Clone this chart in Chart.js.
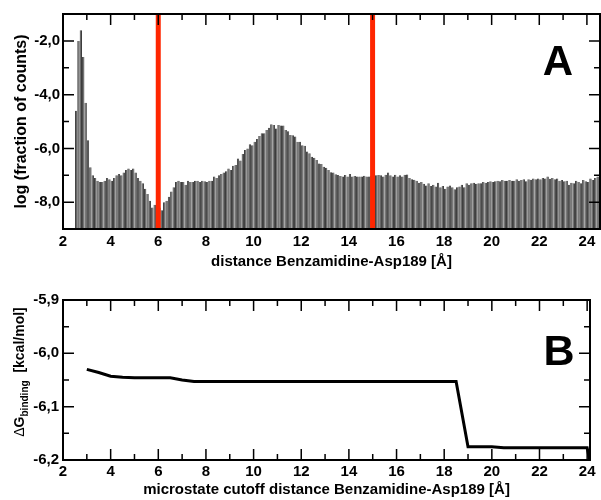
<!DOCTYPE html>
<html>
<head>
<meta charset="utf-8">
<script src="https://cdn.jsdelivr.net/npm/chart.js@4.4.1/dist/chart.umd.min.js"></script>
<style>
  html, body { margin: 0; padding: 0; background: #fff; }
  #wrap { position: relative; width: 601px; height: 500px; }
  canvas { position: absolute; left: 0; }
  #chartA { top: 0; }
  #chartB { top: 272px; }
</style>
</head>
<body>
<div id="wrap">
  <canvas id="chartA" width="601" height="272"></canvas>
  <canvas id="chartB" width="601" height="228"></canvas>
</div>
<script>
// Panel A: histogram of log(fraction of counts), 0.1 Å bins starting at 2.5 Å
const logFraction = [
  -4.6, -2.0, -1.6, -2.6, -4.3, -5.7, -6.7, -7.0, -7.1, -7.2,
  -7.25, -7.25, -7.2, -7.1, -7.15, -7.2, -7.1, -7.0, -6.95, -7.0,
  -6.9, -6.8, -6.75, -6.8, -6.75, -6.9, -7.1, -7.2, -7.3, -7.5,
  -7.7, -7.95, -8.2, -8.1, -8.1, -8.2, -8.3, -8.0, -7.95, -7.8,
  -7.6, -7.45, -7.25, -7.2, -7.25, -7.25, -7.35, -7.2, -7.25, -7.25,
  -7.2, -7.2, -7.25, -7.2, -7.22, -7.25, -7.2, -7.2, -7.05, -7.1,
  -7.0, -6.95, -6.9, -6.85, -6.75, -6.8, -6.65, -6.62, -6.38, -6.45,
  -6.21, -6.06, -6.0, -5.85, -5.88, -5.75, -5.65, -5.54, -5.44, -5.44,
  -5.32, -5.23, -5.1, -5.13, -5.26, -5.13, -5.15, -5.15, -5.32, -5.36,
  -5.5, -5.51, -5.56, -5.75, -5.75, -5.88, -5.9, -6.12, -6.18, -6.31,
  -6.35, -6.43, -6.56, -6.58, -6.68, -6.72, -6.8, -6.89, -6.9, -6.96,
  -6.99, -7.03, -7.05, -6.99, -7.05, -6.95, -7.05, -7.03, -7.05, -7.05,
  -7.05, -7.02, -7.05, -7.05, -7.03, -7.05, -7.0, -6.99, -7.0, -7.05,
  -6.98, -6.9, -7.0, -7.05, -6.98, -7.05, -7.0, -7.05, -6.98, -6.97,
  -7.1, -7.15, -7.17, -7.2, -7.28, -7.25, -7.32, -7.38, -7.3, -7.4,
  -7.35, -7.42, -7.28, -7.45, -7.4, -7.5, -7.42, -7.38, -7.45, -7.52,
  -7.45, -7.42, -7.35, -7.45, -7.3, -7.35, -7.3, -7.28, -7.32, -7.3,
  -7.3, -7.25, -7.28, -7.25, -7.22, -7.25, -7.22, -7.2, -7.22, -7.18,
  -7.2, -7.2, -7.18, -7.2, -7.2, -7.15, -7.2, -7.18, -7.15, -7.22,
  -7.15, -7.17, -7.12, -7.15, -7.12, -7.15, -7.1, -7.12, -7.05, -7.13,
  -7.1, -7.15, -7.12, -7.2, -7.18, -7.22, -7.2, -7.35, -7.28, -7.3,
  -7.2, -7.25, -7.3, -7.18, -7.22, -7.25, -7.12, -7.18, -7.1, -7.05
];
const binCenters = logFraction.map((_, i) => +(2.55 + i * 0.1).toFixed(2));
const cutoffLines = [6, 15];

// Panel B: binding free energy vs. microstate cutoff
const cutoffDistance = [3, 3.5, 4, 4.5, 5, 5.5, 6, 6.5, 7, 7.5, 8, 9, 10, 11, 12, 13, 14, 15, 16, 17, 18, 18.5, 19, 19.5, 20, 20.5, 21, 22, 23, 24, 24.5];
const deltaG = [-6.030, -6.036, -6.043, -6.045, -6.046, -6.046, -6.046, -6.046, -6.050, -6.053, -6.053, -6.053, -6.053, -6.053, -6.053, -6.053, -6.053, -6.053, -6.053, -6.053, -6.053, -6.053, -6.175, -6.175, -6.175, -6.177, -6.177, -6.177, -6.177, -6.177, -6.29];

// axis ranges
const xRangeA = [2, 24.55], yRangeA = [-9, -1];
const xRangeB = [2, 24.12], yRangeB = [-6.2, -5.9];

const FONT = 'Liberation Sans';
Chart.defaults.font.family = FONT;
Chart.defaults.color = '#000';

const isMultiple = (v, m) => Math.abs(v / m - Math.round(v / m)) < 1e-6;
const commaLabel = (v, d) => v.toFixed(d).replace('.', ',');

// inward tick marks on the frame as short line segments (gaps between them)
// ux/uy: data units per pixel of the plot area
function tickSegments(xr, yr, xStep, xMajor, yStep, yMajor, ux, uy, bottom) {
  const pts = [];
  const seg = (x1, y1, x2, y2) => pts.push({ x: x1, y: y1 }, { x: x2, y: y2 }, { x: x2, y: null });
  const nx = Math.round((Math.floor(xr[1]) - Math.ceil(xr[0])) / xStep);
  for (let i = 0; i <= nx; i++) {
    const v = Math.ceil(xr[0]) + i * xStep;
    const len = isMultiple(v, xMajor) ? 11 : 6;
    seg(v, yr[1], v, yr[1] - len * uy);
    if (bottom) seg(v, yr[0], v, yr[0] + len * uy);
  }
  const ny = Math.round((yr[1] - yr[0]) / yStep);
  for (let i = 0; i <= ny; i++) {
    const v = yr[0] + i * yStep;
    const len = isMultiple(v, yMajor) ? 11 : 6;
    seg(xr[0], v, xr[0] + len * ux, v);
    seg(xr[1], v, xr[1] - len * ux, v);
  }
  return pts;
}

const tickDataset = pts => ({
  type: 'line', data: pts, borderColor: '#000', borderWidth: 1.5,
  pointRadius: 0, spanGaps: false, tension: 0, order: 0
});

// closed frame and panel letter
function frameLetter(cfg) {
  return {
    id: 'frameLetter',
    afterDraw(chart) {
      const { ctx, chartArea: a } = chart;
      ctx.save();
      ctx.strokeStyle = '#000';
      ctx.lineWidth = 2;
      ctx.strokeRect(a.left, a.top, a.right - a.left, a.bottom - a.top);
      ctx.fillStyle = '#000';
      ctx.font = 'bold ' + cfg.size + 'px ' + FONT;
      ctx.textAlign = 'center';
      ctx.fillText(cfg.letter, cfg.x, cfg.y);
      ctx.restore();
    }
  };
}

// rotated y title with subscript for panel B
const dgTitle = {
  id: 'dgTitle',
  afterDraw(chart) {
    const { ctx, chartArea: a } = chart;
    const parts = [
      { t: '\u0394', f: '14px ' + FONT, dy: 0 },
      { t: 'G', f: 'bold 14px ' + FONT, dy: 0 },
      { t: 'binding', f: 'bold 10px ' + FONT, dy: 4 },
      { t: '  [kcal/mol]', f: 'bold 14px ' + FONT, dy: 0 }
    ];
    ctx.save();
    let total = 0;
    parts.forEach(p => { ctx.font = p.f; p.w = ctx.measureText(p.t).width; total += p.w; });
    ctx.translate(24, (a.top + a.bottom) / 2 - 8);
    ctx.rotate(-Math.PI / 2);
    ctx.fillStyle = '#000';
    let cx = -total / 2;
    parts.forEach(p => { ctx.font = p.f; ctx.fillText(p.t, cx, p.dy); cx += p.w; });
    ctx.restore();
  }
};

const labelFont = { size: 15, weight: 'bold' };

// plot area A: 537 x 215 px, plot area B: 527 x 160 px
const ticksA = tickSegments(xRangeA, yRangeA, 1, 2, 1, 2,
  (xRangeA[1] - xRangeA[0]) / 537, (yRangeA[1] - yRangeA[0]) / 215, false);
const ticksB = tickSegments(xRangeB, yRangeB, 1, 2, 0.05, 0.1,
  (xRangeB[1] - xRangeB[0]) / 527, (yRangeB[1] - yRangeB[0]) / 160, true);

new Chart(document.getElementById('chartA'), {
  type: 'bar',
  data: {
    datasets: [
      tickDataset(ticksA),
      ...cutoffLines.map(c => ({
        type: 'line', data: [{ x: c, y: yRangeA[0] }, { x: c, y: yRangeA[1] }],
        borderColor: '#ff2600', borderWidth: 5, pointRadius: 0, order: 1
      })),
      {
        type: 'bar',
        data: logFraction.map((v, i) => ({ x: binCenters[i], y: [yRangeA[0], v] })),
        backgroundColor: '#5e5e5e', borderColor: '#000', borderWidth: 0.8,
        borderSkipped: 'start', barPercentage: 0.95, categoryPercentage: 1, order: 2
      }
    ]
  },
  options: {
    responsive: false, animation: false, events: [], devicePixelRatio: 1,
    layout: { padding: { top: 14, right: 1, left: 0, bottom: 0 } },
    plugins: { legend: { display: false }, tooltip: { enabled: false } },
    scales: {
      x: {
        type: 'linear', min: xRangeA[0], max: xRangeA[1], offset: false,
        grid: { display: false, drawTicks: false, offset: false },
        border: { display: false },
        ticks: { stepSize: 2, includeBounds: false, autoSkip: false, maxRotation: 0, padding: 4,
                 font: labelFont, callback: v => Number.isInteger(v) ? v : '' },
        title: { display: true, text: 'distance Benzamidine-Asp189 [Å]',
                 font: { size: 15, weight: 'bold' }, padding: { top: 0, bottom: 1 } },
        afterFit: s => { s.height = 43; }
      },
      y: {
        min: yRangeA[0], max: yRangeA[1],
        grid: { display: false, drawTicks: false },
        border: { display: false },
        ticks: { stepSize: 1, includeBounds: false, autoSkip: false, padding: 3,
                 font: labelFont, callback: v => (isMultiple(v, 2) ? commaLabel(v, 1) : '') },
        title: { display: true, text: 'log (fraction of counts)',
                 font: { size: 16, weight: 'bold' }, padding: { top: 12, bottom: 0 } },
        afterFit: s => { s.width = 63; }
      }
    }
  },
  plugins: [frameLetter({ letter: 'A', size: 42, x: 558, y: 75 })]
});

new Chart(document.getElementById('chartB'), {
  type: 'line',
  data: {
    datasets: [
      tickDataset(ticksB),
      {
        data: cutoffDistance.map((c, i) => ({ x: c, y: deltaG[i] })),
        borderColor: '#000', borderWidth: 3, pointRadius: 0, tension: 0, order: 1
      }
    ]
  },
  options: {
    responsive: false, animation: false, events: [], devicePixelRatio: 1,
    layout: { padding: { top: 28, right: 11, left: 0, bottom: 0 } },
    plugins: { legend: { display: false }, tooltip: { enabled: false } },
    scales: {
      x: {
        type: 'linear', min: xRangeB[0], max: xRangeB[1],
        grid: { display: false, drawTicks: false },
        border: { display: false },
        ticks: { stepSize: 2, includeBounds: false, autoSkip: false, maxRotation: 0, padding: 3,
                 font: labelFont, callback: v => Number.isInteger(v) ? v : '' },
        title: { display: true, text: 'microstate cutoff distance Benzamidine-Asp189 [Å]',
                 font: { size: 15, weight: 'bold' }, padding: { top: 0, bottom: 1 } },
        afterFit: s => { s.height = 40; }
      },
      y: {
        min: yRangeB[0], max: yRangeB[1],
        grid: { display: false, drawTicks: false },
        border: { display: false },
        ticks: { stepSize: 0.05, includeBounds: false, autoSkip: false, padding: 4,
                 font: labelFont, callback: v => (isMultiple(v, 0.1) ? commaLabel(v, 1) : '') },
        afterFit: s => { s.width = 63; }
      }
    }
  },
  plugins: [frameLetter({ letter: 'B', size: 43, x: 559, y: 93 }), dgTitle]
});
</script>
</body>
</html>
